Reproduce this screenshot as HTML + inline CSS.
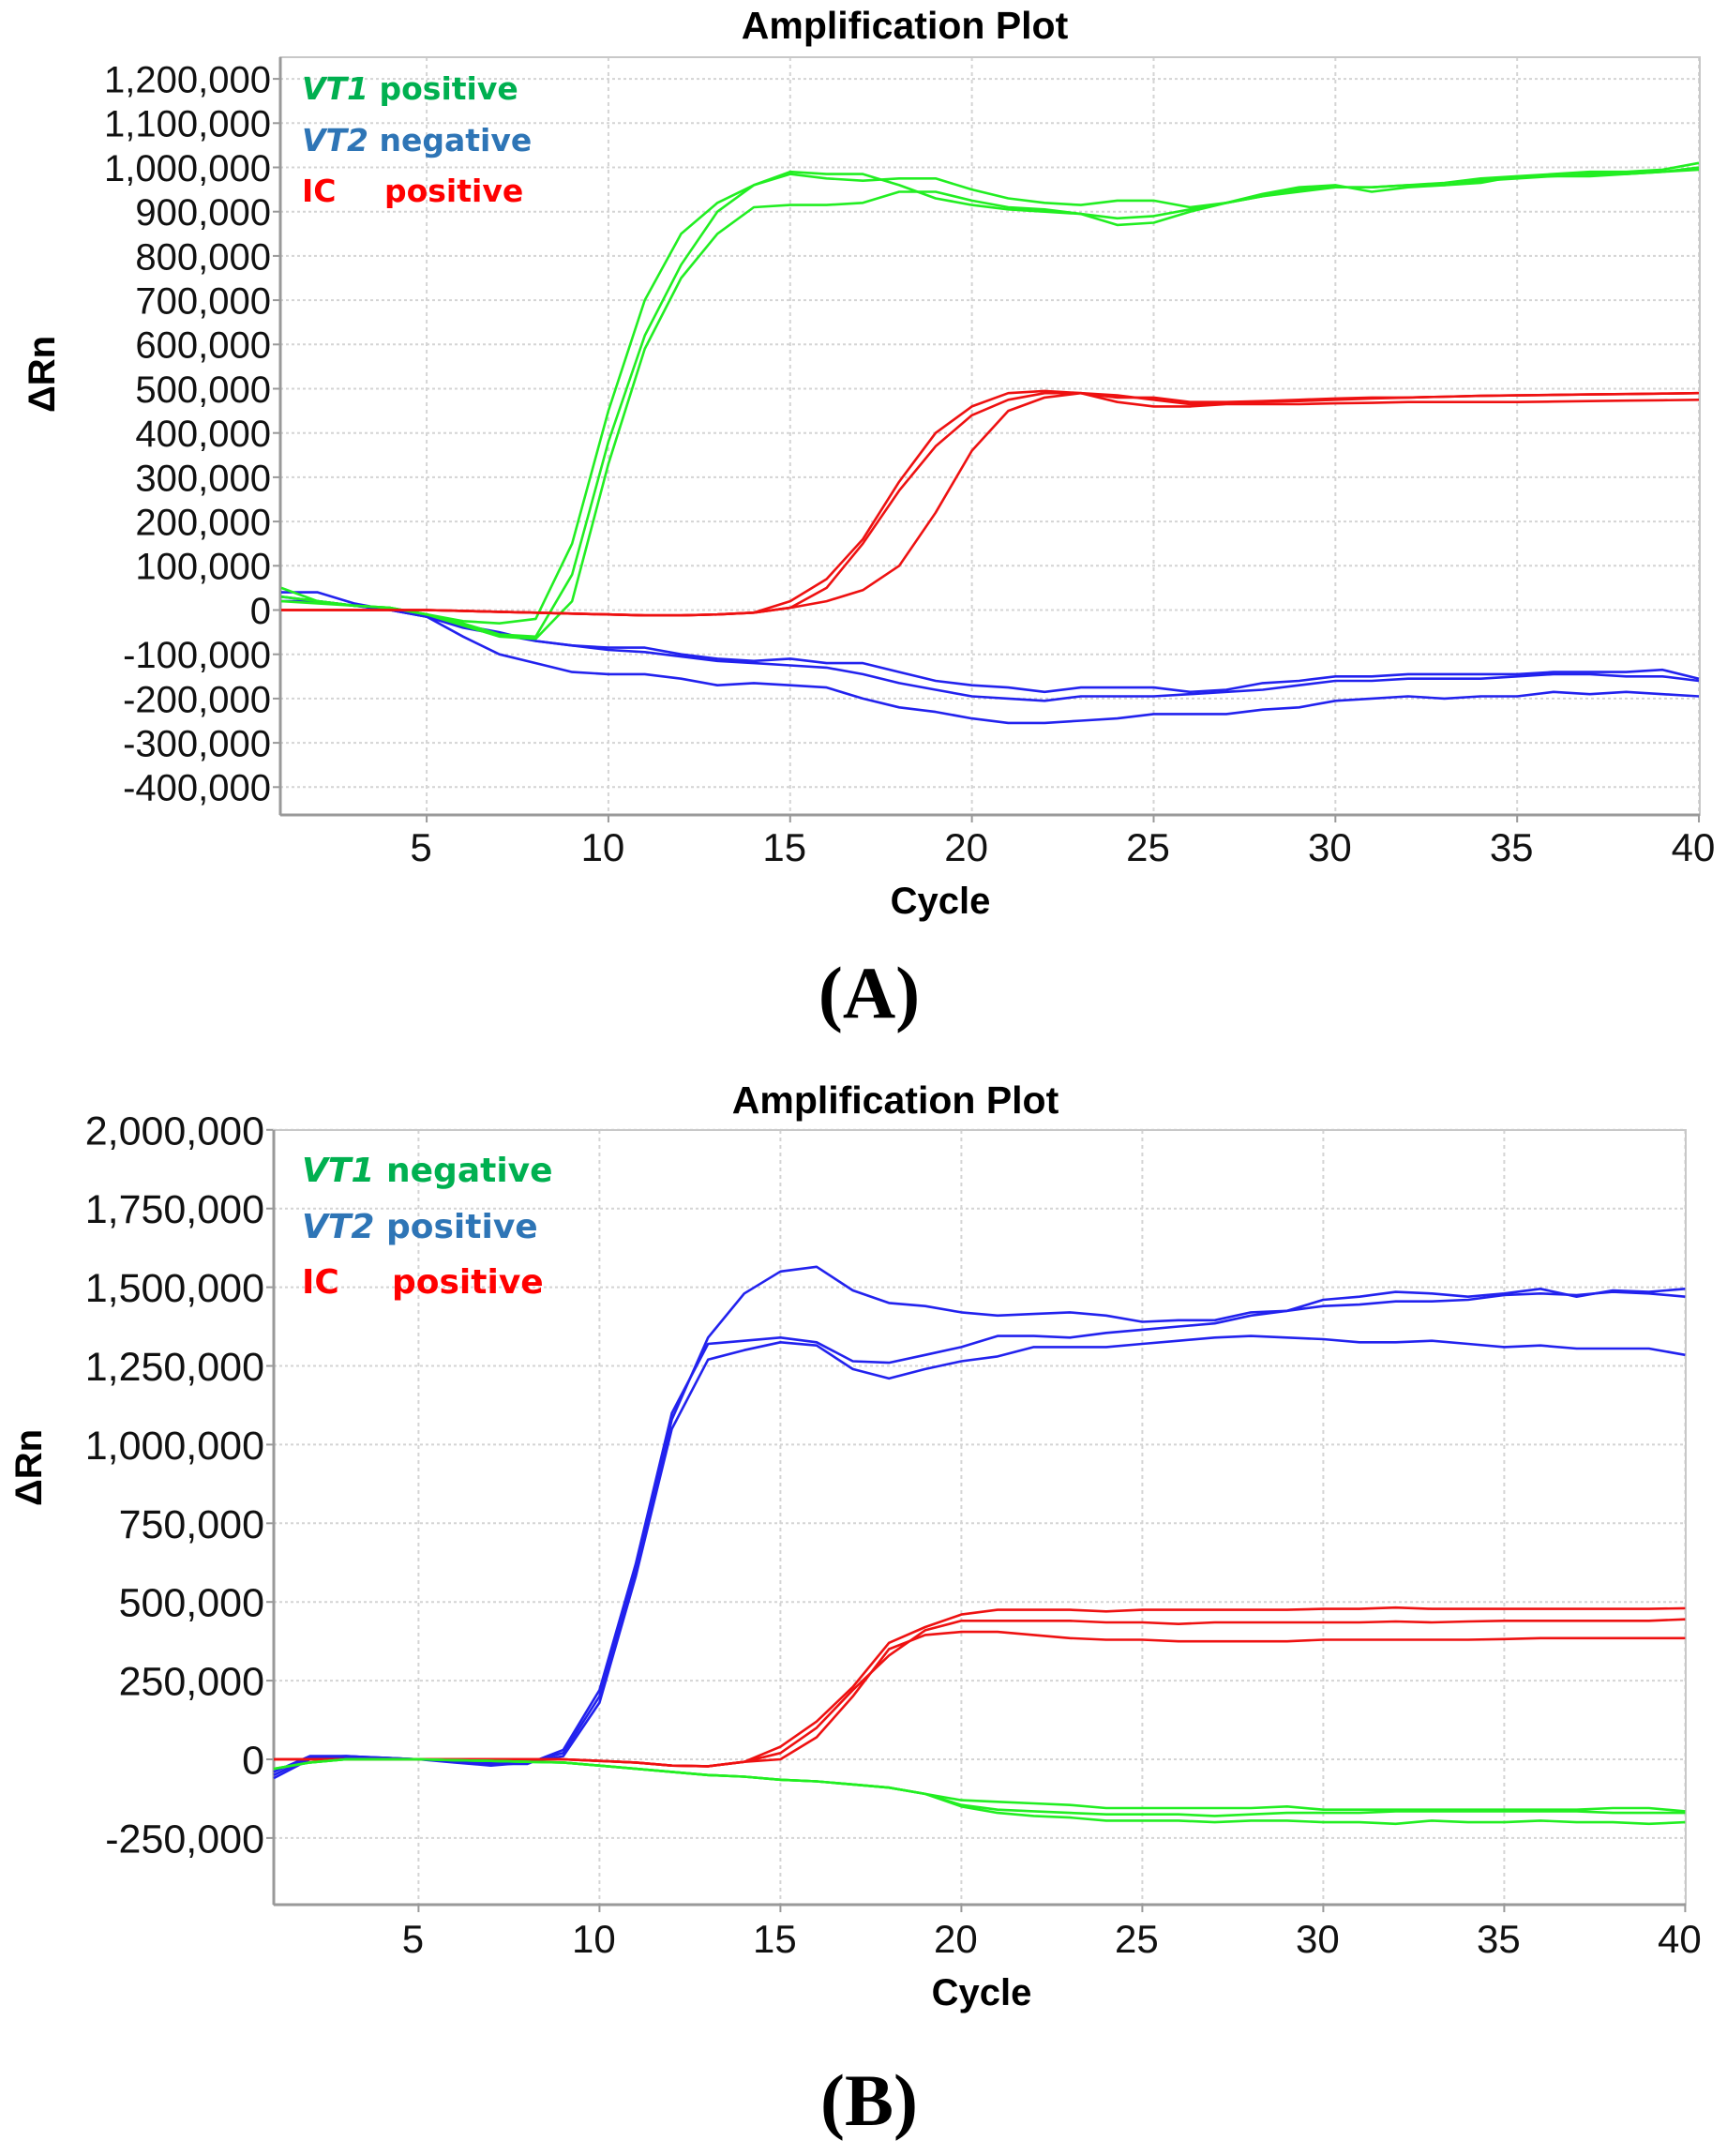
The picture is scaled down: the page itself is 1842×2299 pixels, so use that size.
<!DOCTYPE html>
<html><head><meta charset="utf-8"><style>
html,body{margin:0;padding:0;background:#fff}
svg{display:block}
</style></head><body>
<svg id="s" width="1842" height="2299" xmlns="http://www.w3.org/2000/svg" font-family="Liberation Sans, Arial, sans-serif"></svg>
<script>
const S=document.getElementById('s');let h='';
function plot(P){
 const X=c=>P.x0+(c-1)*P.dx, Y=v=>P.y0-v/P.vu*P.dy;
 for(const v of P.yt){h+=`<line x1="${P.L}" x2="${P.R}" y1="${Y(v)}" y2="${Y(v)}" stroke="#d4d4d4" stroke-width="2" stroke-dasharray="3,3"/>`;
  h+=`<line x1="${P.L-8}" x2="${P.L}" y1="${Y(v)}" y2="${Y(v)}" stroke="#999" stroke-width="2"/>`;
  h+=`<text x="${P.L-10}" y="${Y(v)+P.fs*0.36}" font-size="${P.fs}" text-anchor="end" fill="#111">${v.toLocaleString('en-US')}</text>`;}
 for(const c of [5,10,15,20,25,30,35,40]){h+=`<line x1="${X(c)}" x2="${X(c)}" y1="${P.T}" y2="${P.B}" stroke="#d4d4d4" stroke-width="2" stroke-dasharray="4,4"/>`;
  h+=`<line x1="${X(c)}" x2="${X(c)}" y1="${P.B}" y2="${P.B+8}" stroke="#999" stroke-width="2"/>`;
  h+=`<text x="${X(c)-6}" y="${P.xl}" font-size="42" text-anchor="middle" fill="#111">${c}</text>`;}
 h+=`<rect x="${P.L}" y="${P.T}" width="${P.R-P.L}" height="${P.B-P.T}" fill="none" stroke="#c8c8c8" stroke-width="2"/>`;
 h+=`<line x1="${P.L}" x2="${P.L}" y1="${P.T}" y2="${P.B}" stroke="#999" stroke-width="3"/><line x1="${P.L}" x2="${P.R}" y1="${P.B}" y2="${P.B}" stroke="#999" stroke-width="3"/>`;
 for(const s of P.series){const pts=s.d.map((v,i)=>X(i+1).toFixed(1)+','+Y(v*1000).toFixed(1)).join(' ');
  h+=`<polyline points="${pts}" fill="none" stroke="${s.c}" stroke-width="2.6" stroke-linejoin="round"/>`;}
 h+=`<text x="${P.tx}" y="${P.ty}" font-size="41" font-weight="bold" text-anchor="middle">Amplification Plot</text>`;
 h+=`<text x="${P.cx}" y="${P.cy}" font-size="40" font-weight="bold" text-anchor="middle">Cycle</text>`;
 h+=`<text transform="translate(${P.rx},${P.ry}) rotate(-90)" font-size="40" font-weight="bold" text-anchor="middle">ΔRn</text>`;
 const lf=P.lf;
 P.leg.forEach((l,i)=>{const y=P.ly[i];
  if(i<2)h+=`<text x="${P.lx}" y="${y}" font-size="${lf}" font-weight="bold" fill="${l[0]}" font-family="DejaVu Sans, sans-serif"><tspan font-style="italic">${l[1]}</tspan> ${l[2]}</text>`;
  else h+=`<text x="${P.lx}" y="${y}" font-size="${lf}" font-weight="bold" fill="${l[0]}" font-family="DejaVu Sans, sans-serif">IC</text><text x="${P.lx2}" y="${y}" font-size="${lf}" font-weight="bold" fill="${l[0]}" font-family="DejaVu Sans, sans-serif">${l[2]}</text>`;});
 h+=`<text x="927" y="${P.lab}" font-size="78" font-weight="bold" text-anchor="middle" font-family="Liberation Serif, serif">${P.labt}</text>`;
}
const G='#22ee22',BL='#2222ee',R='#ee1111';
const flatR=[0,0,0,0,0,-2,-4,-6,-8,-10,-12,-12,-10,-6];
plot({L:299,R:1813,T:61,B:869,x0:300,dx:38.77,y0:650.5,dy:47.2,vu:100000,fs:40,xl:918,
 yt:[1200000,1100000,1000000,900000,800000,700000,600000,500000,400000,300000,200000,100000,0,-100000,-200000,-300000,-400000],
 tx:965,ty:41,cx:1003,cy:974,rx:58,ry:399,lf:33,lx:322,lx2:410,ly:[106,161,215],lab:1085,labt:'(A)',
 leg:[['#00b050','VT1','positive'],['#2e75b6','VT2','negative'],['#ff0000','IC','positive']],
 series:[
 {c:BL,d:[30,20,10,0,-15,-40,-55,-70,-80,-85,-85,-100,-110,-115,-110,-120,-120,-140,-160,-170,-175,-185,-175,-175,-175,-185,-180,-165,-160,-150,-150,-145,-145,-145,-145,-140,-140,-140,-135,-155]},
 {c:BL,d:[40,40,15,0,-15,-35,-50,-70,-80,-90,-95,-105,-115,-120,-125,-130,-145,-165,-180,-195,-200,-205,-195,-195,-195,-190,-185,-180,-170,-160,-160,-155,-155,-155,-150,-145,-145,-150,-150,-160]},
 {c:BL,d:[20,20,10,0,-15,-60,-100,-120,-140,-145,-145,-155,-170,-165,-170,-175,-200,-220,-230,-245,-255,-255,-250,-245,-235,-235,-235,-225,-220,-205,-200,-195,-200,-195,-195,-185,-190,-185,-190,-195]},
 {c:G,d:[50,20,10,5,-10,-25,-30,-20,150,450,700,850,920,960,990,985,985,960,930,915,905,900,895,885,890,905,920,935,950,955,955,960,965,975,980,985,990,990,995,1010]},
 {c:G,d:[20,15,10,5,-10,-30,-55,-60,80,380,620,780,900,960,985,975,970,975,975,950,930,920,915,925,925,910,920,940,955,960,945,955,960,965,980,980,985,985,990,1000]},
 {c:G,d:[30,20,10,5,-10,-35,-60,-65,20,330,590,750,850,910,915,915,920,945,945,925,910,905,895,870,875,900,920,935,945,955,955,960,960,970,975,980,980,985,990,995]},
 {c:R,d:flatR.concat([20,70,160,290,400,460,490,495,490,485,475,465,468,470,472,475,478,480,482,484,485,486,487,488,489,490])},
 {c:R,d:flatR.concat([5,50,150,270,370,440,475,490,490,470,460,460,465,465,465,467,468,470,470,470,470,471,472,473,474,475])},
 {c:R,d:flatR.concat([5,20,45,100,220,360,450,480,490,480,480,470,470,472,475,478,480,480,482,484,485,486,487,488,489,490])}
 ]});
const earlyB=[-50,5,10,5,0,-5,-10,-10,20,200,600,1080];
const rB=[0,0,0,0,0,0,0,0,0,-5,-10,-20,-22,-8];
const gB=[-30,-10,0,0,0,-3,-5,-8,-10,-20,-30,-40,-50,-55,-65,-70,-80,-90,-110];
plot({L:292,R:1798,T:1205,B:2031,x0:292,dx:38.6,y0:1876,dy:83.9,vu:250000,fs:43,xl:2082,
 yt:[2000000,1750000,1500000,1250000,1000000,750000,500000,250000,0,-250000],
 tx:955,ty:1187,cx:1047,cy:2138,rx:44,ry:1565,lf:36,lx:322,lx2:418,ly:[1260,1320,1379],lab:2266,labt:'(B)',
 leg:[['#00b050','VT1','negative'],['#2e75b6','VT2','positive'],['#ff0000','IC','positive']],
 series:[
 {c:BL,d:earlyB.concat([1340,1480,1550,1565,1490,1450,1440,1420,1410,1415,1420,1410,1390,1395,1395,1420,1425,1440,1445,1455,1455,1460,1475,1480,1475,1485,1480,1470])},
 {c:BL,d:[-40,10,10,5,0,-5,-15,-15,30,220,620,1100].concat([1320,1330,1340,1325,1265,1260,1285,1310,1345,1345,1340,1355,1365,1375,1385,1410,1425,1460,1470,1485,1480,1470,1480,1495,1470,1490,1485,1495])},
 {c:BL,d:[-60,0,5,5,0,-10,-20,-10,10,180,580,1050].concat([1270,1300,1325,1315,1240,1210,1240,1265,1280,1310,1310,1310,1320,1330,1340,1345,1340,1335,1325,1325,1330,1320,1310,1315,1305,1305,1305,1285])},
 {c:R,d:rB.concat([40,120,230,370,420,460,475,475,475,470,475,475,475,475,475,478,478,482,478,478,478,478,478,478,478,480])},
 {c:R,d:rB.concat([20,100,220,330,410,440,440,440,440,435,435,430,435,435,435,435,435,438,435,438,440,440,440,440,440,445])},
 {c:R,d:rB.concat([0,70,200,350,395,405,405,395,385,380,380,375,375,375,375,380,380,380,380,380,382,385,385,385,385,385])},
 {c:G,d:gB.concat([-130,-135,-140,-145,-155,-155,-155,-155,-155,-150,-160,-160,-160,-160,-160,-160,-160,-160,-155,-155,-165])},
 {c:G,d:gB.concat([-145,-160,-165,-170,-175,-175,-175,-180,-175,-170,-170,-170,-165,-165,-165,-165,-165,-165,-170,-170,-170])},
 {c:G,d:gB.concat([-150,-170,-180,-185,-195,-195,-195,-200,-195,-195,-200,-200,-205,-195,-200,-200,-195,-200,-200,-205,-200])}
 ]});
S.innerHTML=h;
</script>
</body></html>
